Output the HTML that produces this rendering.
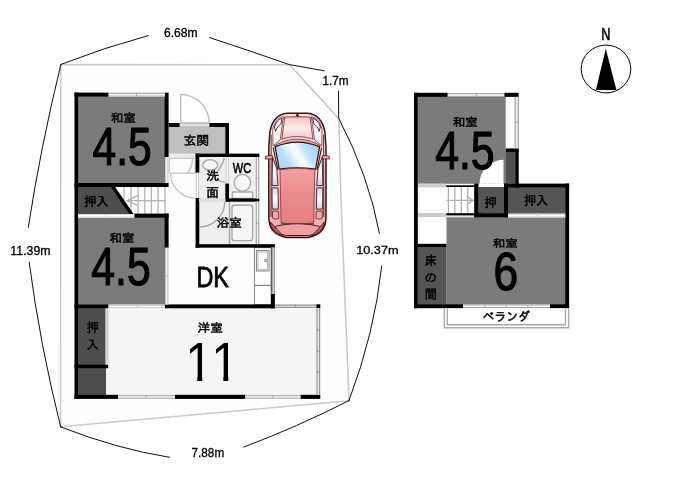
<!DOCTYPE html>
<html lang="ja">
<head>
<meta charset="utf-8">
<title>間取り図</title>
<style>
html,body{margin:0;padding:0;background:#fff;}
body{width:678px;height:493px;overflow:hidden;font-family:"Liberation Sans","IPAGothic",sans-serif;}
svg{display:block;}
svg text{font-family:"Liberation Sans","IPAGothic",sans-serif;}
</style>
</head>
<body>
<svg width="678" height="493" viewBox="0 0 678 493">
<defs><filter id="soft" x="0" y="0" width="678" height="493" filterUnits="userSpaceOnUse" color-interpolation-filters="sRGB"><feGaussianBlur stdDeviation="0.5"/></filter></defs>
<rect width="678" height="493" fill="#fff"/>
<g filter="url(#soft)">
<rect width="678" height="493" fill="#fff"/>
<g id="lot">
<polygon points="60.7,64.6 289.6,64.8 338.8,118.6 341,200 349,400.8 60.6,426.8" fill="#fefefe" stroke="#cacaca" stroke-width="1.6" stroke-linejoin="round"/>
</g>
<g id="dims" fill="none" stroke="#000" stroke-width="0.95" stroke-linecap="round" stroke-linejoin="round">
<path d="M60.9,64.4 Q104.8,47.3 148.2,35.6"/>
<path d="M209.6,37.6 Q249.5,50.6 289.3,64.6 L324.4,70.8"/>
<path d="M338.5,91 L338.7,118.2 Q369,176.4 379.4,233.4"/>
<path d="M381.7,266.1 Q374.5,333.4 349,400.6"/>
<path d="M60.9,64.4 Q40.4,148 28.3,227.4"/>
<path d="M29.2,262.3 Q40,344.7 60.7,426.9"/>
<path d="M60.7,426.9 Q117,449 169.6,457.3"/>
<path d="M243.7,447.1 Q297,427 349,400.6"/>
</g>
<g id="f1">
<rect x="78.00" y="96.50" width="87.00" height="86.70" fill="#7b7b7b"/>
<rect x="78.00" y="217.60" width="87.00" height="87.00" fill="#7b7b7b"/>
<rect x="78.00" y="186.80" width="90.50" height="27.20" fill="#fff"/>
<rect x="78.00" y="308.20" width="28.20" height="86.80" fill="#4e4e4e"/>
<rect x="106.20" y="308.20" width="210.40" height="86.80" fill="#f5f5f5"/>
<rect x="168.50" y="127.00" width="57.00" height="26.80" fill="#bfbfbf"/>
<rect x="199.30" y="157.00" width="26.20" height="41.60" fill="#efefef"/>
<rect x="229.00" y="157.00" width="26.60" height="41.60" fill="#efefef"/>
<rect x="199.30" y="201.60" width="56.30" height="42.60" fill="#efefef"/>
<g stroke="#b2b2b2" stroke-width="1.3" fill="none">
<line x1="124" y1="187" x2="124" y2="213.8"/>
<line x1="131" y1="187" x2="131" y2="213.8"/>
<line x1="138.1" y1="187" x2="138.1" y2="213.8"/>
<line x1="144.8" y1="187" x2="144.8" y2="213.8"/>
<line x1="151.4" y1="187" x2="151.4" y2="213.8"/>
<line x1="158.1" y1="187" x2="158.1" y2="213.8"/>
<line x1="165.0" y1="187" x2="165.0" y2="213.8"/>
<line x1="127" y1="200.7" x2="165.4" y2="200.7"/>
<path d="M137.3,195.9 L127,200.7 L137.3,205.4"/>
</g>
<polygon points="78,186.8 113,186.8 131.6,214 78,214" fill="#4e4e4e"/>
<polygon points="110.8,186.8 115,186.8 133.6,214 129.4,214" fill="#000"/>
<g stroke="#c6c6c6" stroke-width="1.4" fill="none">
<rect x="169.3" y="158.2" width="26" height="15"/>
<path d="M192.4,158.4 A23.6,23.6 0 0 1 187.5,173.2"/>
<path d="M170.6,173.3 A24.8,24.8 0 0 0 195.4,198.1"/>
<rect x="168.70" y="154.40" width="26.70" height="2.40" fill="#e6e6e6" stroke="none"/>
</g>
<g stroke="#c2c2c2" stroke-width="1.5" fill="#fff">
<path d="M180.6,123 L180.6,94.4 A28.6,28.6 0 0 1 209.2,123 Z"/>
</g>
<rect x="179.50" y="123.00" width="30.00" height="4.00" fill="#e8e8e8"/>
<line x1="179.50" y1="123.50" x2="209.50" y2="123.50" stroke="#c0c0c0" stroke-width="1.2"/>
<line x1="179.50" y1="126.50" x2="209.50" y2="126.50" stroke="#c0c0c0" stroke-width="1.2"/>
<g stroke="#a8a8a8" stroke-width="1.4" fill="#f6f6f6">
<ellipse cx="210.2" cy="165" rx="7.6" ry="5.2"/>
<path d="M224.5,158 Q221,168 216.6,172.3" fill="none"/>
<path d="M217.5,179.5 Q221.5,182.6 226,182.8" fill="none"/>
<rect x="232.4" y="192" width="20.2" height="6.4"/>
<circle cx="242.4" cy="182.8" r="8.3"/>
<line x1="229.5" y1="201.6" x2="229.5" y2="244.2"/>
<rect x="232" y="205.2" width="20.6" height="35.4" rx="2.4"/>
<path d="M224.8,201.8 A25.4,25.4 0 0 1 199.6,227" fill="none"/>
</g>
<g stroke="#8e8e8e" stroke-width="1.1" fill="#fff">
<rect x="254.5" y="247.6" width="16.6" height="57"/>
<rect x="256.5" y="250.5" width="12.5" height="20.5"/>
<rect x="258" y="252" width="9.5" height="17.5" stroke="#bbb"/>
<line x1="254.5" y1="285.4" x2="271.1" y2="285.4" stroke="#787878"/>
<circle cx="266" cy="260.5" r="1.3"/>
</g>
<rect x="74.50" y="92.60" width="3.60" height="306.30" fill="#000"/>
<rect x="74.40" y="92.60" width="34.30" height="4.10" fill="#000"/>
<rect x="164.60" y="92.60" width="4.00" height="64.40" fill="#000"/>
<rect x="74.50" y="183.00" width="94.10" height="4.00" fill="#000"/>
<rect x="134.20" y="213.60" width="34.40" height="4.20" fill="#000"/>
<rect x="164.60" y="213.60" width="4.00" height="34.20" fill="#000"/>
<rect x="74.50" y="304.40" width="34.10" height="4.00" fill="#000"/>
<rect x="164.60" y="304.40" width="110.30" height="3.90" fill="#000"/>
<rect x="195.60" y="244.20" width="79.30" height="3.50" fill="#000"/>
<rect x="271.00" y="293.60" width="3.90" height="14.70" fill="#000"/>
<rect x="316.20" y="304.30" width="4.10" height="3.90" fill="#000"/>
<rect x="74.50" y="364.60" width="33.70" height="3.60" fill="#000"/>
<rect x="74.50" y="394.80" width="43.70" height="4.10" fill="#000"/>
<rect x="175.00" y="394.80" width="70.40" height="4.10" fill="#000"/>
<rect x="300.40" y="394.80" width="19.90" height="4.10" fill="#000"/>
<rect x="168.60" y="123.00" width="11.00" height="4.00" fill="#000"/>
<rect x="209.40" y="123.00" width="19.60" height="4.00" fill="#000"/>
<rect x="225.30" y="123.00" width="3.70" height="34.00" fill="#000"/>
<rect x="195.60" y="153.60" width="63.80" height="3.40" fill="#000"/>
<rect x="195.60" y="153.60" width="3.70" height="19.20" fill="#000"/>
<rect x="195.60" y="198.00" width="3.70" height="49.60" fill="#000"/>
<rect x="225.30" y="183.30" width="3.70" height="18.30" fill="#000"/>
<rect x="225.30" y="198.40" width="34.10" height="3.30" fill="#000"/>
<rect x="108.70" y="92.90" width="55.90" height="3.60" fill="#fff"/>
<line x1="108.70" y1="93.40" x2="164.60" y2="93.40" stroke="#a8a8a8" stroke-width="1.2"/>
<line x1="108.70" y1="96.00" x2="164.60" y2="96.00" stroke="#a8a8a8" stroke-width="1.2"/>
<line x1="136.60" y1="92.90" x2="136.60" y2="96.50" stroke="#a8a8a8" stroke-width="1"/>
<rect x="165.20" y="157.00" width="3.20" height="26.00" fill="#fff"/>
<line x1="165.70" y1="157.00" x2="165.70" y2="183.00" stroke="#c8c8c8" stroke-width="1.2"/>
<line x1="167.90" y1="157.00" x2="167.90" y2="183.00" stroke="#c8c8c8" stroke-width="1.2"/>
<rect x="78.20" y="214.00" width="56.00" height="3.60" fill="#fff"/>
<line x1="78.20" y1="214.50" x2="134.20" y2="214.50" stroke="#d8d8d8" stroke-width="1.2"/>
<line x1="78.20" y1="217.10" x2="134.20" y2="217.10" stroke="#d8d8d8" stroke-width="1.2"/>
<line x1="106.20" y1="214.00" x2="106.20" y2="217.60" stroke="#d8d8d8" stroke-width="1"/>
<rect x="165.20" y="247.80" width="3.20" height="56.60" fill="#fff"/>
<line x1="165.70" y1="247.80" x2="165.70" y2="304.40" stroke="#c0c0c0" stroke-width="1.2"/>
<line x1="167.90" y1="247.80" x2="167.90" y2="304.40" stroke="#c0c0c0" stroke-width="1.2"/>
<line x1="165.20" y1="276.00" x2="168.40" y2="276.00" stroke="#c0c0c0" stroke-width="1"/>
<rect x="108.60" y="304.80" width="56.00" height="3.20" fill="#fff"/>
<line x1="108.60" y1="305.30" x2="164.60" y2="305.30" stroke="#c8c8c8" stroke-width="1.2"/>
<line x1="108.60" y1="307.50" x2="164.60" y2="307.50" stroke="#c8c8c8" stroke-width="1.2"/>
<line x1="136.90" y1="304.80" x2="136.90" y2="308.00" stroke="#c8c8c8" stroke-width="1"/>
<rect x="105.60" y="308.60" width="2.60" height="55.80" fill="#fff"/>
<line x1="106.10" y1="308.60" x2="106.10" y2="364.40" stroke="#c8c8c8" stroke-width="1.2"/>
<line x1="107.70" y1="308.60" x2="107.70" y2="364.40" stroke="#c8c8c8" stroke-width="1.2"/>
<line x1="105.60" y1="336.00" x2="108.20" y2="336.00" stroke="#c8c8c8" stroke-width="1"/>
<rect x="274.90" y="304.70" width="41.30" height="3.20" fill="#f0f0f0"/>
<line x1="274.90" y1="305.20" x2="316.20" y2="305.20" stroke="#909090" stroke-width="1.2"/>
<line x1="274.90" y1="307.40" x2="316.20" y2="307.40" stroke="#909090" stroke-width="1.2"/>
<line x1="295.40" y1="304.70" x2="295.40" y2="307.90" stroke="#909090" stroke-width="1"/>
<rect x="316.50" y="308.20" width="3.60" height="86.60" fill="#f0f0f0"/>
<line x1="317.00" y1="308.20" x2="317.00" y2="394.80" stroke="#909090" stroke-width="1.2"/>
<line x1="319.60" y1="308.20" x2="319.60" y2="394.80" stroke="#909090" stroke-width="1.2"/>
<line x1="316.50" y1="330.00" x2="320.10" y2="330.00" stroke="#909090" stroke-width="1"/>
<line x1="316.50" y1="351.00" x2="320.10" y2="351.00" stroke="#909090" stroke-width="1"/>
<line x1="316.50" y1="372.00" x2="320.10" y2="372.00" stroke="#909090" stroke-width="1"/>
<rect x="271.20" y="247.60" width="3.50" height="46.00" fill="#f4f4f4"/>
<line x1="271.70" y1="247.60" x2="271.70" y2="293.60" stroke="#8c8c8c" stroke-width="1.2"/>
<line x1="274.20" y1="247.60" x2="274.20" y2="293.60" stroke="#8c8c8c" stroke-width="1.2"/>
<line x1="271.70" y1="247.60" x2="271.70" y2="293.60" stroke="#5a5a5a" stroke-width="1.3"/>
<rect x="118.20" y="395.10" width="56.80" height="3.50" fill="#fff"/>
<line x1="118.20" y1="395.60" x2="175.00" y2="395.60" stroke="#b0b0b0" stroke-width="1.2"/>
<line x1="118.20" y1="398.10" x2="175.00" y2="398.10" stroke="#b0b0b0" stroke-width="1.2"/>
<line x1="146.20" y1="395.10" x2="146.20" y2="398.60" stroke="#b0b0b0" stroke-width="1"/>
<rect x="245.40" y="395.10" width="55.00" height="3.50" fill="#fff"/>
<line x1="245.40" y1="395.60" x2="300.40" y2="395.60" stroke="#b0b0b0" stroke-width="1.2"/>
<line x1="245.40" y1="398.10" x2="300.40" y2="398.10" stroke="#b0b0b0" stroke-width="1.2"/>
<line x1="272.80" y1="395.10" x2="272.80" y2="398.60" stroke="#b0b0b0" stroke-width="1"/>
<rect x="255.80" y="157.00" width="3.40" height="41.40" fill="#fff"/>
<line x1="256.30" y1="157.00" x2="256.30" y2="198.40" stroke="#a4a4a4" stroke-width="1.2"/>
<line x1="258.70" y1="157.00" x2="258.70" y2="198.40" stroke="#a4a4a4" stroke-width="1.2"/>
<line x1="255.80" y1="178.00" x2="259.20" y2="178.00" stroke="#a4a4a4" stroke-width="1"/>
<rect x="255.80" y="201.70" width="3.40" height="42.30" fill="#fff"/>
<line x1="256.30" y1="201.70" x2="256.30" y2="244.00" stroke="#a4a4a4" stroke-width="1.2"/>
<line x1="258.70" y1="201.70" x2="258.70" y2="244.00" stroke="#a4a4a4" stroke-width="1.2"/>
<line x1="255.80" y1="223.30" x2="259.20" y2="223.30" stroke="#a4a4a4" stroke-width="1"/>
<rect x="225.50" y="157.00" width="3.30" height="26.30" fill="#fff"/>
<line x1="226.00" y1="157.00" x2="226.00" y2="183.30" stroke="#cfcfcf" stroke-width="1.2"/>
<line x1="228.30" y1="157.00" x2="228.30" y2="183.30" stroke="#cfcfcf" stroke-width="1.2"/>
<rect x="195.80" y="172.80" width="3.30" height="25.20" fill="#fff"/>
<line x1="196.30" y1="172.80" x2="196.30" y2="198.00" stroke="#cfcfcf" stroke-width="1.2"/>
<line x1="198.60" y1="172.80" x2="198.60" y2="198.00" stroke="#cfcfcf" stroke-width="1.2"/>
<rect x="199.30" y="198.60" width="26.00" height="2.90" fill="#fff"/>
<line x1="199.30" y1="199.10" x2="225.30" y2="199.10" stroke="#cfcfcf" stroke-width="1.2"/>
<line x1="199.30" y1="201.00" x2="225.30" y2="201.00" stroke="#cfcfcf" stroke-width="1.2"/>
</g>
<g id="car" transform="translate(297.4 112.9)">
<defs>
<linearGradient id="cBody" x1="0" y1="0" x2="0" y2="1">
<stop offset="0" stop-color="#fbe4e4"/><stop offset="0.35" stop-color="#fbe2e2"/><stop offset="0.6" stop-color="#f6c4c4"/><stop offset="1" stop-color="#efa6a6"/>
</linearGradient>
<linearGradient id="cHood" x1="0" y1="0" x2="0" y2="1">
<stop offset="0" stop-color="#f5c2c2"/><stop offset="0.5" stop-color="#fdebea"/><stop offset="1" stop-color="#f6c6c6"/>
</linearGradient>
<linearGradient id="cRoof" x1="0" y1="0" x2="0" y2="1">
<stop offset="0" stop-color="#f2a2a2"/><stop offset="0.45" stop-color="#eb8c8c"/><stop offset="1" stop-color="#e48080"/>
</linearGradient>
<linearGradient id="cGlass" gradientUnits="userSpaceOnUse" x1="-19" y1="56" x2="19" y2="32">
<stop offset="0" stop-color="#a9d3f3"/><stop offset="0.28" stop-color="#bcdff7"/><stop offset="0.46" stop-color="#eef8fe"/><stop offset="0.56" stop-color="#f6fbff"/><stop offset="0.72" stop-color="#c3e2f8"/><stop offset="1" stop-color="#a6d0f0"/>
</linearGradient>
<linearGradient id="cSide" x1="0" y1="0" x2="0" y2="1">
<stop offset="0" stop-color="#cfd6f0"/><stop offset="0.5" stop-color="#ffffff"/><stop offset="1" stop-color="#d6cfe8"/>
</linearGradient>
</defs>
<!-- body -->
<path d="M-10,0.3 C-19,1 -25.2,7 -27.5,19 L-28.6,34 L-28.6,104 C-28.5,115 -24,121.8 -11,124.6 L11,124.6 C24,121.8 28.5,115 28.6,104 L28.6,34 L27.5,19 C25.2,7 19,1 10,0.3 Z" fill="url(#cBody)" stroke="#3a1216" stroke-width="1.5"/>
<!-- inner side lines -->
<path d="M-26.2,22 L-26.4,104 M26.2,22 L26.4,104" fill="none" stroke="#4a1c20" stroke-width="0.9"/>
<path d="M-24.2,34.6 L-19.6,57 M24.2,34.6 L19.6,57" fill="none" stroke="#3a1216" stroke-width="1.1"/>
<!-- bumper line -->
<path d="M-19,6.6 C-12,3.4 12,3.4 19,6.6" fill="none" stroke="#5b2329" stroke-width="0.8"/>
<!-- hood -->
<path d="M-12.6,4 L12.6,4 L15.6,26.4 C6,22.8 -6,22.8 -15.6,26.4 Z" fill="url(#cHood)" stroke="#6a2a30" stroke-width="0.8"/>
<!-- fenders -->
<path d="M-24.6,16 C-22.6,8 -18.6,4.6 -14,3.8 L-17.2,27 L-24.4,33 Z" fill="#fdf0f0" stroke="#5b2329" stroke-width="0.7"/>
<path d="M24.6,16 C22.6,8 18.6,4.6 14,3.8 L17.2,27 L24.4,33 Z" fill="#fdf0f0" stroke="#5b2329" stroke-width="0.7"/>
<!-- headlights -->
<path d="M-23,14 C-21.2,9 -18.6,6.4 -15.4,5.4 L-16.4,11 C-18.6,12.2 -20.6,14.6 -21.8,18.4 Z" fill="#fff" stroke="#3e1519" stroke-width="0.9"/>
<path d="M23,14 C21.2,9 18.6,6.4 15.4,5.4 L16.4,11 C18.6,12.2 20.6,14.6 21.8,18.4 Z" fill="#fff" stroke="#3e1519" stroke-width="0.9"/>
<circle cx="0" cy="2.4" r="1.4" fill="#4a1c20"/>
<!-- cowl -->
<path d="M-22.6,32.6 C-8,24.2 8,24.2 22.6,32.6 L21.8,35.4 C7,28.8 -7,28.8 -21.8,35.4 Z" fill="#f4b2b2" stroke="#5b2329" stroke-width="0.8"/>
<!-- windshield -->
<path d="M-22.2,34 C-8,28 8,28 22.2,34 L18.2,56.2 C6,54.6 -6,54.6 -18.2,56.2 Z" fill="url(#cGlass)" stroke="#32100f" stroke-width="1.2"/>
<!-- roof -->
<path d="M-17.4,56.8 C-6,55 6,55 17.4,56.8 L16.3,110 C6,111.4 -6,111.4 -16.3,110 Z" fill="url(#cRoof)" stroke="#7a3038" stroke-width="0.8"/>
<!-- side windows -->
<path d="M-24.8,44 L-20.6,56 L-19.4,72.6 L-25.4,72.6 Z" fill="url(#cSide)" stroke="#3e1519" stroke-width="0.9"/>
<path d="M24.8,44 L20.6,56 L19.4,72.6 L25.4,72.6 Z" fill="url(#cSide)" stroke="#3e1519" stroke-width="0.9"/>
<path d="M-25.4,75 L-19.4,75 L-19,96.2 L-25.2,96.2 Z" fill="url(#cSide)" stroke="#3e1519" stroke-width="0.9"/>
<path d="M25.4,75 L19.4,75 L19,96.2 L25.2,96.2 Z" fill="url(#cSide)" stroke="#3e1519" stroke-width="0.9"/>
<path d="M-25,98.2 L-18.9,98.2 L-18.6,105.4 C-20.6,106.6 -23.4,106.4 -24.8,105 Z" fill="#f0a8a8" stroke="#4e1d22" stroke-width="0.8"/>
<path d="M25,98.2 L18.9,98.2 L18.6,105.4 C20.6,106.6 23.4,106.4 24.8,105 Z" fill="#f0a8a8" stroke="#4e1d22" stroke-width="0.8"/>
<!-- mirrors -->
<path d="M-25,42.4 L-31.6,43.2 L-32.2,46 L-25.2,46.2 Z" fill="#eea0a0" stroke="#4e1d22" stroke-width="0.8"/>
<path d="M25,42.4 L31.6,43.2 L32.2,46 L25.2,46.2 Z" fill="#eea0a0" stroke="#4e1d22" stroke-width="0.8"/>
<!-- rear -->
<path d="M-16.2,110.2 C-6,112.2 6,112.2 16.2,110.2 L15.4,113.6 C6,115.4 -6,115.4 -15.4,113.6 Z" fill="#e88c8c" stroke="#6a2a30" stroke-width="0.8"/>
<path d="M-21.6,113.4 C-8,110 8,110 21.6,113.4 C24.4,116.4 21.6,120.8 11,122.6 L-11,122.6 C-21.6,120.8 -24.4,116.4 -21.6,113.4 Z" fill="#f0a0a0" stroke="#4a1c20" stroke-width="1"/>
<path d="M-27,109 C-26.4,116 -22.4,120.8 -14,123 L-20,117 Z" fill="#b85a5e" stroke="#4a1c20" stroke-width="0.9"/>
<path d="M27,109 C26.4,116 22.4,120.8 14,123 L20,117 Z" fill="#b85a5e" stroke="#4a1c20" stroke-width="0.9"/>
</g>

<g id="f2">
<rect x="417.70" y="96.80" width="88.10" height="87.00" fill="#7b7b7b"/>
<rect x="446.30" y="217.00" width="119.10" height="87.40" fill="#7b7b7b"/>
<rect x="417.70" y="183.80" width="28.60" height="60.20" fill="#fff"/>
<rect x="446.30" y="186.00" width="27.90" height="28.00" fill="#fff"/>
<rect x="505.80" y="96.80" width="9.00" height="51.70" fill="#fff"/>
<rect x="505.70" y="151.60" width="9.90" height="32.20" fill="#505050"/>
<rect x="478.40" y="187.00" width="25.80" height="26.20" fill="#555555"/>
<rect x="508.00" y="187.60" width="57.40" height="26.20" fill="#555555"/>
<rect x="417.70" y="247.20" width="28.60" height="57.20" fill="#555555"/>
<path d="M503.5,183.8 L479.5,183.8 A24,24 0 0 1 503.5,159.8 Z" fill="#fff"/>
<rect x="479.00" y="183.70" width="24.60" height="3.30" fill="#fff"/>
<rect x="417.70" y="184.20" width="28.60" height="3.20" fill="#cbcbcb"/>
<rect x="417.70" y="213.00" width="28.60" height="4.00" fill="#cbcbcb"/>
<rect x="446.30" y="215.40" width="27.90" height="2.00" fill="#e4e4e4"/>
<g stroke="#b2b2b2" stroke-width="1.3" fill="none">
<line x1="448.4" y1="187" x2="448.4" y2="213.4"/>
<line x1="454.8" y1="187" x2="454.8" y2="213.4"/>
<line x1="461.3" y1="187" x2="461.3" y2="213.4"/>
<line x1="467.8" y1="187" x2="467.8" y2="213.4"/>
<line x1="446.3" y1="200.4" x2="473" y2="200.4"/>
<path d="M466.8,196 L473,200.4 L466.8,204.8" stroke="#b4b4b4"/>
</g>
<rect x="446.30" y="185.30" width="28.10" height="1.70" fill="#000"/>
<rect x="446.30" y="213.20" width="28.10" height="2.20" fill="#000"/>
<rect x="414.00" y="92.80" width="3.80" height="215.40" fill="#000"/>
<rect x="414.00" y="92.80" width="33.80" height="4.10" fill="#000"/>
<rect x="504.20" y="92.80" width="14.40" height="4.10" fill="#000"/>
<rect x="505.80" y="148.40" width="12.90" height="3.60" fill="#000"/>
<rect x="515.30" y="148.40" width="3.40" height="39.20" fill="#000"/>
<rect x="474.20" y="183.60" width="4.30" height="33.60" fill="#000"/>
<rect x="474.20" y="213.10" width="33.80" height="4.10" fill="#000"/>
<rect x="504.00" y="183.60" width="4.00" height="33.60" fill="#000"/>
<rect x="504.00" y="183.60" width="65.10" height="4.10" fill="#000"/>
<rect x="565.20" y="183.60" width="3.90" height="124.60" fill="#000"/>
<rect x="414.00" y="243.80" width="32.30" height="3.50" fill="#000"/>
<rect x="414.00" y="304.20" width="49.00" height="4.00" fill="#000"/>
<rect x="550.00" y="304.20" width="19.10" height="4.00" fill="#000"/>
<rect x="447.80" y="93.20" width="56.40" height="3.60" fill="#fff"/>
<line x1="447.80" y1="93.70" x2="504.20" y2="93.70" stroke="#a8a8a8" stroke-width="1.2"/>
<line x1="447.80" y1="96.30" x2="504.20" y2="96.30" stroke="#a8a8a8" stroke-width="1.2"/>
<line x1="476.30" y1="93.20" x2="476.30" y2="96.80" stroke="#a8a8a8" stroke-width="1"/>
<rect x="514.70" y="96.90" width="4.20" height="51.50" fill="#ececec"/>
<line x1="515.20" y1="96.90" x2="515.20" y2="148.40" stroke="#a6a6a6" stroke-width="1.2"/>
<line x1="518.40" y1="96.90" x2="518.40" y2="148.40" stroke="#a6a6a6" stroke-width="1.2"/>
<line x1="514.70" y1="122.20" x2="518.90" y2="122.20" stroke="#a6a6a6" stroke-width="1"/>
<rect x="508.40" y="213.80" width="56.80" height="3.60" fill="#fff"/>
<line x1="508.40" y1="214.30" x2="565.20" y2="214.30" stroke="#d8d8d8" stroke-width="1.2"/>
<line x1="508.40" y1="216.90" x2="565.20" y2="216.90" stroke="#d8d8d8" stroke-width="1.2"/>
<line x1="536.90" y1="213.80" x2="536.90" y2="217.40" stroke="#d8d8d8" stroke-width="1"/>
<rect x="463.00" y="304.40" width="87.00" height="3.80" fill="#fff"/>
<line x1="463.00" y1="304.90" x2="550.00" y2="304.90" stroke="#a4a4a4" stroke-width="1.2"/>
<line x1="463.00" y1="307.70" x2="550.00" y2="307.70" stroke="#a4a4a4" stroke-width="1.2"/>
<line x1="484.80" y1="304.40" x2="484.80" y2="308.20" stroke="#a4a4a4" stroke-width="1"/>
<line x1="506.20" y1="304.40" x2="506.20" y2="308.20" stroke="#a4a4a4" stroke-width="1"/>
<line x1="527.80" y1="304.40" x2="527.80" y2="308.20" stroke="#a4a4a4" stroke-width="1"/>
<g stroke="#ababab" stroke-width="1.4" fill="none">
<path d="M444.3,308.4 V327.8 H568.6 V308.4" fill="#fff"/>
<path d="M447.3,308.4 V324.8 H565.4 V308.4"/>
</g>
</g>
<g id="compass">
<ellipse cx="606" cy="69" rx="24.8" ry="23.9" fill="#fff" stroke="#000" stroke-width="1"/>
<polygon points="605.8,48.8 616.4,89.9 595.9,89.9" fill="#000"/>
</g>
<g id="labels">
<text transform="matrix(0.06315 0 0 0.05844 110.702 121.541)" font-size="200" fill="#000" stroke="#000" stroke-width="8.23" stroke-linejoin="round">和室</text>
<text transform="matrix(0.21283 0 0 0.26481 92.542 164.757)" font-size="200" fill="#000" stroke="#000" stroke-width="4.63" stroke-linejoin="round">4.5</text>
<text transform="matrix(0.06202 0 0 0.06330 83.889 205.761)" font-size="200" fill="#000" stroke="#000" stroke-width="7.98" stroke-linejoin="round">押入</text>
<text transform="matrix(0.06209 0 0 0.05787 109.514 241.748)" font-size="200" fill="#000" stroke="#000" stroke-width="8.34" stroke-linejoin="round">和室</text>
<text transform="matrix(0.21361 0 0 0.26904 91.336 284.945)" font-size="200" fill="#000" stroke="#000" stroke-width="4.59" stroke-linejoin="round">4.5</text>
<text transform="matrix(0.06097 0 0 0.06328 86.697 331.959)" font-size="200" fill="#000" stroke="#000" stroke-width="8.05" stroke-linejoin="round">押</text>
<text transform="matrix(0.06090 0 0 0.06026 86.399 348.849)" font-size="200" fill="#000" stroke="#000" stroke-width="8.25" stroke-linejoin="round">入</text>
<text transform="matrix(0.06351 0 0 0.05845 197.562 331.742)" font-size="200" fill="#000" stroke="#000" stroke-width="8.21" stroke-linejoin="round">洋室</text>
<clipPath id="c11"><rect x="0" y="-150" width="90" height="132"/><rect x="49" y="-19" width="20" height="20"/><rect x="105.29" y="-150" width="90" height="132"/><rect x="154.29" y="-19" width="20" height="20"/></clipPath><g transform="matrix(0.24694 0 0 0.27899 185.208 380.600)" clip-path="url(#c11)"><text font-size="200" fill="#000"><tspan x="0">1</tspan><tspan x="105.29">1</tspan></text></g>
<text transform="matrix(0.11730 0 0 0.15006 196.433 286.804)" font-size="200" fill="#000" stroke="#000" stroke-width="5.28" stroke-linejoin="round">DK</text>
<text transform="matrix(0.06429 0 0 0.06295 183.388 144.871)" font-size="200" fill="#000" stroke="#000" stroke-width="7.86" stroke-linejoin="round">玄関</text>
<text transform="matrix(0.06485 0 0 0.05978 206.282 179.663)" font-size="200" fill="#000" stroke="#000" stroke-width="8.03" stroke-linejoin="round">洗</text>
<text transform="matrix(0.06350 0 0 0.06444 206.350 196.646)" font-size="200" fill="#000" stroke="#000" stroke-width="7.82" stroke-linejoin="round">面</text>
<text transform="matrix(0.05529 0 0 0.07409 232.861 173.062)" font-size="200" fill="#000" stroke="#000" stroke-width="7.81" stroke-linejoin="round">WC</text>
<text transform="matrix(0.06317 0 0 0.06061 216.697 227.307)" font-size="200" fill="#000" stroke="#000" stroke-width="8.08" stroke-linejoin="round">浴室</text>
<text transform="matrix(0.06286 0 0 0.05626 452.810 125.876)" font-size="200" fill="#000" stroke="#000" stroke-width="8.41" stroke-linejoin="round">和室</text>
<text transform="matrix(0.21396 0 0 0.26624 435.137 168.854)" font-size="200" fill="#000" stroke="#000" stroke-width="4.61" stroke-linejoin="round">4.5</text>
<text transform="matrix(0.06151 0 0 0.06221 484.495 206.778)" font-size="200" fill="#000" stroke="#000" stroke-width="8.08" stroke-linejoin="round">押</text>
<text transform="matrix(0.06071 0 0 0.06328 523.898 205.259)" font-size="200" fill="#000" stroke="#000" stroke-width="8.07" stroke-linejoin="round">押入</text>
<text transform="matrix(0.06256 0 0 0.05354 492.720 247.319)" font-size="200" fill="#000" stroke="#000" stroke-width="8.64" stroke-linejoin="round">和室</text>
<text transform="matrix(0.22144 0 0 0.26477 493.489 289.869)" font-size="200" fill="#000" stroke="#000" stroke-width="4.54" stroke-linejoin="round">6</text>
<text transform="matrix(0.05885 0 0 0.06283 424.777 264.762)" font-size="200" fill="#000" stroke="#000" stroke-width="8.22" stroke-linejoin="round">床</text>
<text transform="matrix(0.06130 0 0 0.05949 424.589 282.154)" font-size="200" fill="#000" stroke="#000" stroke-width="8.28" stroke-linejoin="round">の</text>
<text transform="matrix(0.06121 0 0 0.06540 424.679 298.726)" font-size="200" fill="#000" stroke="#000" stroke-width="7.90" stroke-linejoin="round">間</text>
<text transform="matrix(0.05947 0 0 0.06162 482.413 320.929)" font-size="200" fill="#000" stroke="#000" stroke-width="8.26" stroke-linejoin="round">ベランダ</text>
<text transform="matrix(0.06305 0 0 0.08210 601.210 39.915)" font-size="200" fill="#000" stroke="#000" stroke-width="6.95" stroke-linejoin="round">N</text>
<text transform="matrix(0.06024 0 0 0.06402 164.043 36.917)" font-size="200" fill="#000" stroke="#000" stroke-width="4.83" stroke-linejoin="round">6.68m</text>
<text transform="matrix(0.05877 0 0 0.06226 322.464 85.146)" font-size="200" fill="#000" stroke="#000" stroke-width="4.96" stroke-linejoin="round">1.7m</text>
<text transform="matrix(0.06177 0 0 0.06335 10.322 254.721)" font-size="200" fill="#000" stroke="#000" stroke-width="4.80" stroke-linejoin="round">11.39m</text>
<text transform="matrix(0.06356 0 0 0.05577 356.207 253.548)" font-size="200" fill="#000" stroke="#000" stroke-width="5.04" stroke-linejoin="round">10.37m</text>
<text transform="matrix(0.05875 0 0 0.06399 191.556 456.715)" font-size="200" fill="#000" stroke="#000" stroke-width="4.89" stroke-linejoin="round">7.88m</text>
</g>
</g>
</svg>
</body>
</html>
